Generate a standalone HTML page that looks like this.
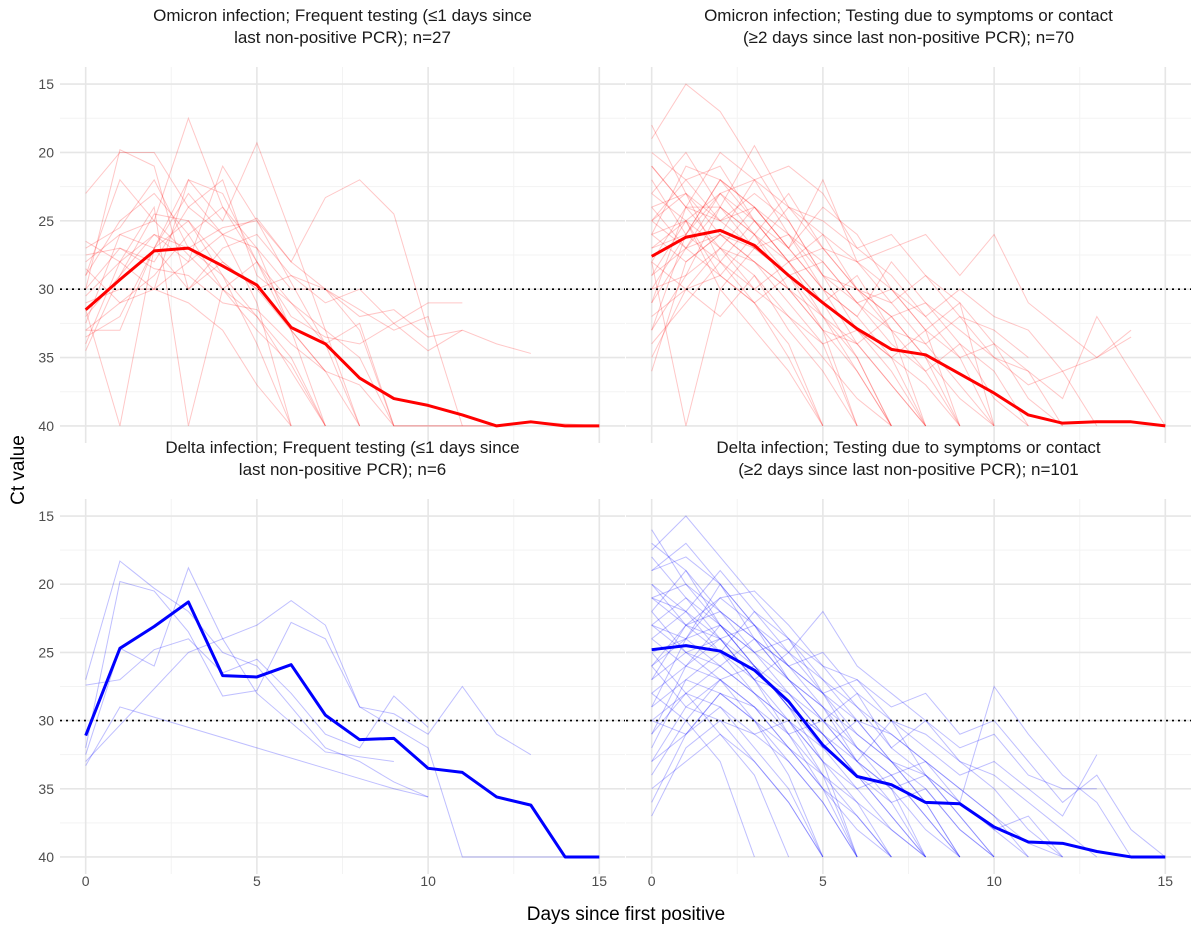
<!DOCTYPE html>
<html><head><meta charset="utf-8">
<style>
html,body{margin:0;padding:0;background:#fff;}
svg{display:block;font-family:"Liberation Sans",Arial,sans-serif;}
</style></head>
<body>
<svg id="chart" width="1200" height="933" viewBox="0 0 1200 933">
<g id="panels"></g>
<text x="626" y="920" text-anchor="middle" font-size="19" fill="#000">Days since first positive</text>
<text transform="translate(24,470) rotate(-90)" text-anchor="middle" font-size="19" fill="#000">Ct value</text>
</svg>
<script>
const xTicks=[0,5,10,15];
const yTicks=[15,20,25,30,35,40];
const threshold=30;
const days=[0,1,2,3,4,5,6,7,8,9,10,11,12,13,14,15];
const meanOmiFreq=[31.5,29.3,27.2,27.0,28.3,29.7,32.8,34.0,36.5,38.0,38.5,39.2,40,39.7,40,40];
const meanOmiSym=[27.6,26.2,25.7,26.8,29.0,31.0,32.9,34.4,34.8,36.2,37.6,39.2,39.8,39.7,39.7,40];
const meanDelFreq=[31.1,24.7,23.1,21.3,26.7,26.8,25.9,29.6,31.4,31.3,33.5,33.8,35.6,36.2,40,40];
const meanDelSym=[24.8,24.5,24.9,26.3,28.6,31.8,34.1,34.7,36.0,36.1,37.8,38.9,39.0,39.6,40,40];

const indOmiFreq=[
[[0,31.5],[1,40],[2,27],[3,25],[4,28],[5,30],[6,33],[7,40]],
[[0,23],[1,20],[2,20],[3,24],[4,26],[5,31],[6,40]],
[[0,27],[1,25.5],[2,22],[3,27],[4,29],[5,32],[6,35],[7,40]],
[[0,29],[1,22],[2,25],[3,17.5],[4,24],[5,28],[6,33],[7,36]],
[[0,33],[1,31],[2,30],[3,22],[4,25],[5,19.3],[6,26],[7,33],[8,40]],
[[0,34],[1,28],[2,26],[3,28],[4,21],[5,25],[6,28],[7,23.3],[8,22],[9,24.5],[10,33]],
[[0,28],[1,26],[2,27],[3,23],[4,26],[5,24.8],[6,28],[7,30],[8,32],[9,31.5],[10,33.5],[11,33]],
[[0,30],[1,19.8],[2,21],[3,30],[4,27],[5,26],[6,29],[7,31],[8,30],[9,32.5],[10,31],[11,31]],
[[0,34.5],[1,29],[2,24.5],[3,25],[4,29],[5,34],[6,40]],
[[0,33],[1,33],[2,27],[3,22],[4,23],[5,28],[6,31],[7,34],[8,40]],
[[0,26.5],[1,28],[2,30],[3,28],[4,26],[5,27],[6,33],[7,36],[8,40]],
[[0,32],[1,29],[2,26],[3,27],[4,25.5],[5,25],[6,29.5],[7,34],[8,32.5],[9,40]],
[[0,30.5],[1,28],[2,24],[3,40],[4,30],[5,32],[6,36],[7,40]],
[[0,27.5],[1,27],[2,28],[3,24],[4,22],[5,29],[6,31],[7,33],[8,35],[9,40]],
[[0,31],[1,30],[2,30],[3,31],[4,33],[5,37],[6,40]],
[[0,29],[1,25],[2,23],[3,26],[4,30],[5,33],[6,35.5],[7,40]],
[[0,33.5],[1,32],[2,27],[3,30],[4,28],[5,30],[6,29],[7,30],[8,33],[9,40],[10,40],[12,40],[13,39.7],[15,40]],
[[0,28.5],[1,31],[2,29],[3,26],[4,24],[5,27],[6,30],[7,30],[8,31.5],[9,33],[10,32],[11,40]],
[[0,32.5],[1,26],[2,25],[3,27.5],[4,30],[5,28],[6,32],[7,33.5],[8,34],[9,32.5],[10,34.5],[11,33],[12,34],[13,34.7]],
[[0,30],[1,27],[2,28.5],[3,29],[4,31],[5,31.5],[6,34],[7,36],[8,37],[9,40],[12,40]]
];
const indOmiSym=[
[[0,18],[1,23],[2,26],[3,28],[4,30],[5,33],[6,36],[7,40]],
[[0,19],[1,15],[2,17],[3,21],[4,25],[5,29],[6,33],[7,35],[8,40]],
[[0,21],[1,24],[2,20],[3,22],[4,26],[5,28],[6,31],[7,34],[8,36],[9,40]],
[[0,23],[1,20],[2,24],[3,19.5],[4,24],[5,27],[6,30],[7,33],[8,40]],
[[0,25],[1,23],[2,25],[3,24],[4,27],[5,22],[6,28],[7,30],[8,33],[9,35],[10,40]],
[[0,27],[1,26],[2,22],[3,25],[4,28],[5,31],[6,35],[7,40]],
[[0,29],[1,27],[2,24],[3,26],[4,28],[5,26],[6,30],[7,32],[8,31],[9,34],[10,36],[11,40]],
[[0,33],[1,29],[2,27],[3,28],[4,30],[5,33],[6,40]],
[[0,36],[1,28],[2,26],[3,27],[4,29],[5,32],[6,34],[7,37],[8,40]],
[[0,24],[1,27],[2,29],[3,26],[4,23],[5,27],[6,28],[7,31],[8,29],[9,32],[10,33],[11,35]],
[[0,26],[1,21],[2,22],[3,24],[4,27],[5,30],[6,32],[7,28],[8,31],[9,33],[10,35],[11,36],[12,40]],
[[0,31],[1,24],[2,25],[3,23],[4,25],[5,29],[6,31],[7,33],[8,34],[9,37],[10,40]],
[[0,28],[1,40],[2,30],[3,27],[4,26],[5,29],[6,30],[7,32],[8,35],[9,40]],
[[0,22],[1,26],[2,28],[3,31],[4,34],[5,40]],
[[0,30],[1,26],[2,23],[3,22],[4,24],[5,25],[6,27],[7,29],[8,32],[9,30],[10,32],[11,33],[12,36],[13,35],[14,33.5]],
[[0,25],[1,22],[2,21],[3,25],[4,27],[5,24],[6,26],[7,30],[8,33],[9,31],[10,34],[11,38],[12,40]],
[[0,32],[1,30],[2,29],[3,31],[4,35],[5,40]],
[[0,27],[1,25],[2,27],[3,29],[4,32],[5,35],[6,38],[7,40]],
[[0,20],[1,22],[2,25],[3,27],[4,24],[5,26],[6,28],[7,27],[8,26],[9,29],[10,26],[11,31],[12,33],[13,35],[14,33]],
[[0,34],[1,31],[2,28],[3,30],[4,32],[5,34],[6,33],[7,36],[8,40]],
[[0,26],[1,28],[2,26],[3,22],[4,21],[5,23],[6,27],[7,26],[8,29],[9,31],[10,40]],
[[0,29],[1,25],[2,30],[3,33],[4,36],[5,40]],
[[0,23],[1,25],[2,23],[3,26],[4,29],[5,31],[6,29],[7,33],[8,36],[9,34],[10,38],[11,40]],
[[0,31],[1,27],[2,26],[3,28],[4,31],[5,34],[6,40]],
[[0,35],[1,30],[2,27],[3,24],[4,26],[5,30],[6,32],[7,35],[8,33],[9,40]],
[[0,28],[1,24],[2,24],[3,27],[4,29],[5,28],[6,31],[7,30],[8,32],[9,35],[10,34],[11,36],[12,38],[13,32],[14,36],[15,40]],
[[0,24],[1,23],[2,28],[3,25],[4,28],[5,31],[6,33],[7,35],[8,37],[9,40]],
[[0,30],[1,29],[2,24],[3,26],[4,30],[5,32],[6,35],[7,40]],
[[0,26],[1,25],[2,29],[3,31],[4,29],[5,33],[6,34],[7,32],[8,35],[9,38],[10,40]],
[[0,33],[1,26],[2,22],[3,24],[4,27],[5,30],[6,34],[7,37],[8,40]],
[[0,21],[1,24],[2,27],[3,30],[4,28],[5,32],[6,36],[7,40]],
[[0,28],[1,30],[2,32],[3,29],[4,33],[5,36],[6,40]],
[[0,25],[1,27],[2,23],[3,25],[4,28],[5,27],[6,30],[7,31],[8,34],[9,32],[10,35],[11,37],[12,36],[13,40]]
];
const indDelFreq=[
[[0,27.0],[1,18.3],[2,20.3],[3,22.0],[4,25.0],[5,26.0],[6,29.0],[7,32.0],[8,33.0],[9,34.5],[10,35.6]],
[[0,33.3],[1,29],[3,30.5],[5,32],[7,33.5],[9,35],[10,35.6]],
[[0,32.5],[1,24.7],[2,26],[3,18.8],[4,24],[5,28],[7,32.3],[9,33]],
[[0,33],[3,25],[5,23],[6,21.2],[7,23],[8,29],[9,29.5],[10,31],[11,27.5],[12,31],[13,32.5]],
[[0,32],[1,19.8],[2,20.5],[3,23.5],[4,28.2],[5,27.8],[6,22.8],[7,24],[8,29],[10,32],[11,40],[15,40]],
[[0,27.4],[1,27],[2,24.8],[3,24],[4,26.5],[5,25.5],[6,28],[7,31],[8,32],[9,28.2],[10,30.5]]
];
const indDelSym=[
[[0,16],[1,20],[2,22],[3,25],[4,28],[5,31],[6,34],[7,37],[8,40]],
[[0,17.5],[1,15],[2,18],[3,21],[4,24],[5,28],[6,32],[7,35],[8,40]],
[[0,19],[1,18],[2,20],[3,23],[4,26],[5,29],[6,33],[7,36],[8,40]],
[[0,21],[1,22],[2,19],[3,22],[4,25],[5,27],[6,30],[7,33],[8,36],[9,40]],
[[0,23],[1,21],[2,23],[3,26],[4,29],[5,33],[6,40]],
[[0,25],[1,24],[2,26],[3,28],[4,30],[5,32],[6,35],[7,38],[8,40]],
[[0,27],[1,25],[2,24],[3,27],[4,31],[5,34],[6,40]],
[[0,29],[1,27],[2,28],[3,30],[4,33],[5,36],[6,40]],
[[0,31],[1,28],[2,26],[3,28],[4,31],[5,35],[6,37],[7,40]],
[[0,33],[1,29],[2,30],[3,33],[4,36],[5,40]],
[[0,36],[1,31],[2,28],[3,30],[4,34],[5,40]],
[[0,20],[1,23],[2,21],[3,20.5],[4,23],[5,26],[6,29],[7,31],[8,33],[9,35],[10,37],[11,40]],
[[0,22],[1,19],[2,22],[3,24],[4,26],[5,25],[6,28],[7,30],[8,31],[9,33],[10,34],[11,36],[12,38],[13,40]],
[[0,24],[1,26],[2,23],[3,25],[4,27],[5,30],[6,28],[7,32],[8,34],[9,37],[10,40]],
[[0,18],[1,21],[2,24],[3,27],[4,25],[5,28],[6,31],[7,33],[8,36],[9,40]],
[[0,26],[1,23],[2,25],[3,22],[4,24],[5,27],[6,29],[7,32],[8,30],[9,33],[10,35],[11,38],[12,40]],
[[0,28],[1,26],[2,27],[3,29],[4,32],[5,35],[6,38],[7,40]],
[[0,30],[1,31],[2,29],[3,32],[4,35],[5,40]],
[[0,34],[1,30],[2,27],[3,26],[4,29],[5,31],[6,33],[7,35],[8,38],[9,40]],
[[0,37],[1,32],[2,30],[3,31],[4,33],[5,36],[6,40]],
[[0,21],[1,20],[2,23],[3,25],[4,24],[5,26],[6,27],[7,29],[8,28],[9,31],[10,30],[11,33],[12,36],[13,34],[14,38],[15,40]],
[[0,23],[1,24],[2,20],[3,23],[4,27],[5,29],[6,32],[7,34],[8,33],[9,36],[10,38],[11,40]],
[[0,19],[1,17],[2,20],[3,24],[4,27],[5,30],[6,33],[7,30],[8,34],[9,37],[10,40]],
[[0,25],[1,28],[2,31],[3,34],[4,40]],
[[0,27],[1,23],[2,22],[3,24],[4,26],[5,28],[6,27],[7,30],[8,32],[9,34],[10,33],[11,35],[12,37],[13,32.5]],
[[0,32],[1,27],[2,25],[3,27],[4,30],[5,33],[6,36],[7,40]],
[[0,22],[1,25],[2,27],[3,29],[4,31],[5,30],[6,32],[7,34],[8,37],[9,40]],
[[0,29],[1,24],[2,23],[3,26],[4,28],[5,31],[6,34],[7,36],[8,35],[9,38],[10,40]],
[[0,35],[1,33],[2,31],[3,33],[4,36],[5,40]],
[[0,24],[1,22],[2,24],[3,23],[4,25],[5,22],[6,26],[7,28],[8,30],[9,32],[10,31],[11,34],[12,35],[13,35]],
[[0,26],[1,29],[2,27],[3,30],[4,32],[5,34],[6,37],[7,40]],
[[0,20],[1,22],[2,25],[3,28],[4,30],[5,33],[6,35],[7,34],[8,37],[9,40]],
[[0,31],[1,26],[2,24],[3,26],[4,29],[5,32],[6,30],[7,33],[8,35],[9,38],[10,40]],
[[0,28],[1,30],[2,33],[3,40]],
[[0,23],[1,25],[2,26],[3,24],[4,27],[5,29],[6,31],[7,33],[8,34],[9,36],[10,27.5],[11,31],[12,34],[13,36],[14,40]],
[[0,30],[1,28],[2,29],[3,31],[4,30],[5,34],[6,36],[7,38],[8,40]],
[[0,17],[1,19],[2,23],[3,26],[4,29],[5,31],[6,34],[7,37],[8,40]],
[[0,26],[1,24],[2,21],[3,23],[4,26],[5,28],[6,30],[7,31],[8,33],[9,35],[10,37],[11,39],[12,40]],
[[0,33],[1,31],[2,28],[3,29],[4,32],[5,35],[6,40]],
[[0,21],[1,23],[2,24],[3,27],[4,28],[5,30],[6,33],[7,35],[8,34],[9,36],[10,38],[11,37],[12,40]]
];

const panels=[
 {name:'omicron-frequent',x0:60,x1:625,y0:67,y1:443,t1:'Omicron infection; Frequent testing (\u22641 days since',t2:'last non-positive PCR); n=27',ind:indOmiFreq,mean:meanOmiFreq,col:'255,0,0',ia:0.22,yl:true,xl:false},
 {name:'omicron-symptoms',x0:626,x1:1191,y0:67,y1:443,t1:'Omicron infection; Testing due to symptoms or contact',t2:'(\u22652 days since last non-positive PCR); n=70',ind:indOmiSym,mean:meanOmiSym,col:'255,0,0',ia:0.22,yl:false,xl:false},
 {name:'delta-frequent',x0:60,x1:625,y0:499,y1:874,t1:'Delta infection; Frequent testing (\u22641 days since',t2:'last non-positive PCR); n=6',ind:indDelFreq,mean:meanDelFreq,col:'0,0,255',ia:0.25,yl:true,xl:true},
 {name:'delta-symptoms',x0:626,x1:1191,y0:499,y1:874,t1:'Delta infection; Testing due to symptoms or contact',t2:'(\u22652 days since last non-positive PCR); n=101',ind:indDelSym,mean:meanDelSym,col:'0,0,255',ia:0.25,yl:false,xl:true}
];
const NS='http://www.w3.org/2000/svg';
const root=document.getElementById('panels');
function mk(tag,attrs,parent){const e=document.createElementNS(NS,tag);for(const k in attrs)e.setAttribute(k,attrs[k]);parent.appendChild(e);return e;}
panels.forEach(p=>{
 const g=mk('g',{},root);
 
 
 const xs=v=>p.x0+(v+0.75)/16.5*(p.x1-p.x0);
 const ys=v=>p.y0+(v-13.75)/27.5*(p.y1-p.y0);
 // minor grid
 for(let v=2.5;v<15;v+=5){const l=mk('line',{x1:xs(v),x2:xs(v),y1:p.y0,y2:p.y1,stroke:'#f3f3f3','stroke-width':1},g);
  }
 for(let v=17.5;v<40;v+=5){const l=mk('line',{x1:p.x0,x2:p.x1,y1:ys(v),y2:ys(v),stroke:'#f3f3f3','stroke-width':1},g);
  }
 xTicks.forEach(v=>{const l=mk('line',{x1:xs(v),x2:xs(v),y1:p.y0,y2:p.y1,stroke:'#e6e6e6','stroke-width':1.6},g);
  });
 yTicks.forEach(v=>{const l=mk('line',{x1:p.x0,x2:p.x1,y1:ys(v),y2:ys(v),stroke:'#e6e6e6','stroke-width':1.6},g);
  });
 const c=(p.x0+p.x1)/2;
 const t1=mk('text',{x:c,y:p.y0-46,'text-anchor':'middle','font-size':17,fill:'#1a1a1a'},g);t1.textContent=p.t1;
 
 const t2=mk('text',{x:c,y:p.y0-24,'text-anchor':'middle','font-size':17,fill:'#1a1a1a'},g);t2.textContent=p.t2;
 
 if(p.yl) yTicks.forEach(v=>{const t=mk('text',{x:54,y:ys(v)+5,'text-anchor':'end','font-size':14,fill:'#4d4d4d'},g);t.textContent=v;
  });
 if(p.xl) xTicks.forEach(v=>{const t=mk('text',{x:xs(v),y:p.y1+12,'text-anchor':'middle','font-size':14,fill:'#4d4d4d'},g);t.textContent=v;
  });
 p.ind.forEach(s=>{const pl=mk('polyline',{points:s.map(d=>xs(d[0])+','+ys(d[1])).join(' '),fill:'none',stroke:'rgba('+p.col+','+p.ia+')','stroke-width':1},g);
  });
 const th=mk('line',{x1:p.x0,x2:p.x1,y1:ys(threshold),y2:ys(threshold),stroke:'#000','stroke-width':1.6,'stroke-dasharray':'2,4'},g);
 
 const m=mk('polyline',{points:days.map((d,i)=>xs(d)+','+ys(p.mean[i])).join(' '),fill:'none',stroke:'rgb('+p.col+')','stroke-width':3,'stroke-linejoin':'round'},g);
 
});
</script>
</body></html>
